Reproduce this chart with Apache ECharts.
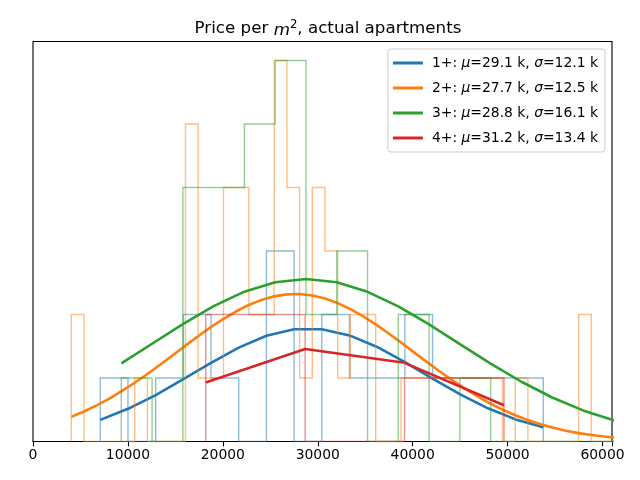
<!DOCTYPE html>
<html><head><meta charset="utf-8">
<script src="https://cdn.jsdelivr.net/npm/echarts@6/dist/echarts.min.js"></script>
<style>html,body{margin:0;padding:0;background:#fff}#c{width:640px;height:480px}</style>
</head><body><div id="c"></div>
<script>
const xTicks = [0, 10000, 20000, 30000, 40000, 50000, 60000];
const names = ['1+', '2+', '3+', '4+'];
const muK = ['29.1', '27.7', '28.8', '31.2'];
const sigmaK = ['12.1', '12.5', '16.1', '13.4'];
const colors = ['#1f77b4', '#ff7f0e', '#2ca02c', '#d62728'];

// 1+ histogram (bin edges, bin heights) and fitted curve at the edges
const edges1 = [7090, 10007, 12924, 15841, 18758, 21675, 24592, 27509, 30426, 33343, 36260, 39177, 42094, 45011, 47928, 50845, 53762];
const counts1 = [1, 0, 1, 2, 1, 0, 3, 0, 2, 1, 1, 2, 1, 1, 1, 1];
const curve1 = [0.341, 0.515, 0.731, 0.981, 1.240, 1.479, 1.665, 1.767, 1.769, 1.671, 1.489, 1.251, 0.992, 0.741, 0.523, 0.348, 0.225];

// 2+
const edges2 = [4035, 5371, 6707, 8044, 9380, 10716, 12052, 13388, 14725, 16061, 17397, 18733, 20069, 21406, 22742, 24078, 25414, 26750, 28087, 29423, 30759, 32095, 33431, 34768, 36104, 37440, 38776, 40112, 41449, 42785, 44121, 45457, 46793, 48130, 49466, 50802, 52138, 53474, 54811, 56147, 57483, 58819, 60155, 61491];
const counts2 = [2, 0, 0, 0, 0, 1, 0, 0, 0, 5, 1, 1, 4, 4, 2, 2, 6, 4, 1, 4, 3, 1, 2, 2, 0, 0, 1, 1, 1, 1, 1, 1, 1, 1, 0, 1, 0, 0, 0, 0, 2, 0, 0];
const curve2 = [0.388, 0.472, 0.568, 0.676, 0.796, 0.925, 1.064, 1.209, 1.359, 1.510, 1.658, 1.801, 1.933, 2.051, 2.151, 2.230, 2.286, 2.317, 2.322, 2.299, 2.251, 2.179, 2.085, 1.973, 1.845, 1.705, 1.559, 1.408, 1.258, 1.111, 0.970, 0.837, 0.714, 0.602, 0.502, 0.414, 0.337, 0.272, 0.216, 0.170, 0.132, 0.102, 0.078, 0.058];

// 3+
const edges3 = [9303, 12546, 15788, 19031, 22274, 25516, 28759, 32002, 35245, 38487, 41730, 44973, 48215, 51458, 54701, 57943, 61186, 64429];
const counts3 = [1, 0, 4, 4, 5, 6, 2, 3, 0, 2, 0, 1, 0, 0, 0, 0, 0];
const curve3 = [1.231, 1.540, 1.849, 2.132, 2.360, 2.508, 2.559, 2.507, 2.357, 2.128, 1.845, 1.535, 1.227, 0.941, 0.693, 0.490, 0.333, 0.217];

// 4+
const edges4 = [18194, 28670, 39146, 49621];
const counts4 = [2, 0, 1];
const curve4 = [0.929, 1.458, 1.239, 0.570];

const allEdges = [edges1, edges2, edges3, edges4];
const allCounts = [counts1, counts2, counts3, counts4];
const allCurves = [curve1, curve2, curve3, curve4];

function stepPoints(edges, counts) {
  const pts = [[edges[0], 0]];
  for (let i = 0; i < counts.length; i++) {
    pts.push([edges[i], counts[i]]);
    pts.push([edges[i + 1], counts[i]]);
  }
  pts.push([edges[counts.length], 0]);
  return pts;
}

const FONT = 'DejaVu Sans';
const series = [];
for (let s = 0; s < 4; s++) {
  series.push({
    name: names[s] + ' hist', type: 'line', data: stepPoints(allEdges[s], allCounts[s]),
    showSymbol: false, symbol: 'none', silent: true, z: 2 + s * 2,
    lineStyle: { color: colors[s], width: 1.4, opacity: 0.5, join: 'miter' },
    itemStyle: { color: colors[s] }, animation: false, clip: true
  });
  series.push({
    name: names[s], type: 'line', data: allEdges[s].map((e, i) => [e, allCurves[s][i]]),
    showSymbol: false, symbol: 'none', z: 3 + s * 2,
    lineStyle: { color: colors[s], width: 2.6 }, itemStyle: { color: colors[s] },
    animation: false, clip: true
  });
}

const chart = echarts.init(document.getElementById('c'), null, { renderer: 'canvas' });
chart.setOption({
  animation: false,
  backgroundColor: '#fff',
  title: {
    text: 'Price per {i|m}{s|2}, actual apartments',
    left: 323, top: 14, textAlign: 'center',
    textStyle: {
      fontFamily: FONT, fontSize: 16.7, fontWeight: 'normal', color: '#000',
      rich: {
        t: { fontFamily: FONT, fontSize: 16.7, color: '#000', verticalAlign: 'bottom' },
        i: { fontFamily: FONT, fontSize: 16.7, fontStyle: 'italic', color: '#000', verticalAlign: 'bottom' },
        s: { fontFamily: FONT, fontSize: 11.7, color: '#000', verticalAlign: 'bottom', padding: [0, 0, 8, 0] }
      }
    }
  },
  legend: {
    data: names, orient: 'vertical', right: 35, top: 49,
    padding: [6, 7, 6, 5], itemGap: 9, itemWidth: 30, itemHeight: 3,
    icon: 'rect', borderColor: '#cccccc', borderWidth: 1, borderRadius: 3,
    backgroundColor: 'rgba(255,255,255,0.8)',
    formatter: function (name) {
      const i = names.indexOf(name);
      return name + ': {i|μ}=' + muK[i] + ' k, {i|σ}=' + sigmaK[i] + ' k';
    },
    textStyle: {
      fontFamily: FONT, fontSize: 13.9, color: '#000', lineHeight: 16, padding: [0, 0, 0, 4],
      rich: { i: { fontFamily: FONT, fontSize: 13.9, fontStyle: 'italic', color: '#000', lineHeight: 16 } }
    }
  },
  grid: { left: 33, right: 28, top: 41.5, bottom: 38.5, show: true, borderColor: '#000', borderWidth: 1.1, backgroundColor: 'transparent', containLabel: false },
  xAxis: {
    type: 'value', min: 0, max: 61000, interval: 10000,
    axisLine: { show: true, lineStyle: { color: '#000', width: 1.1 } },
    axisTick: { show: true, length: 4.9, lineStyle: { color: '#000', width: 1.1 } },
    axisLabel: { fontFamily: FONT, fontSize: 13.9, color: '#000', margin: 7,
      formatter: v => (xTicks.indexOf(v) >= 0 ? String(v) : '') },
    splitLine: { show: false }
  },
  yAxis: {
    type: 'value', min: 0, max: 6.3,
    axisLine: { show: false }, axisTick: { show: false }, axisLabel: { show: false }, splitLine: { show: false }
  },
  series: series
});
</script></body></html>
